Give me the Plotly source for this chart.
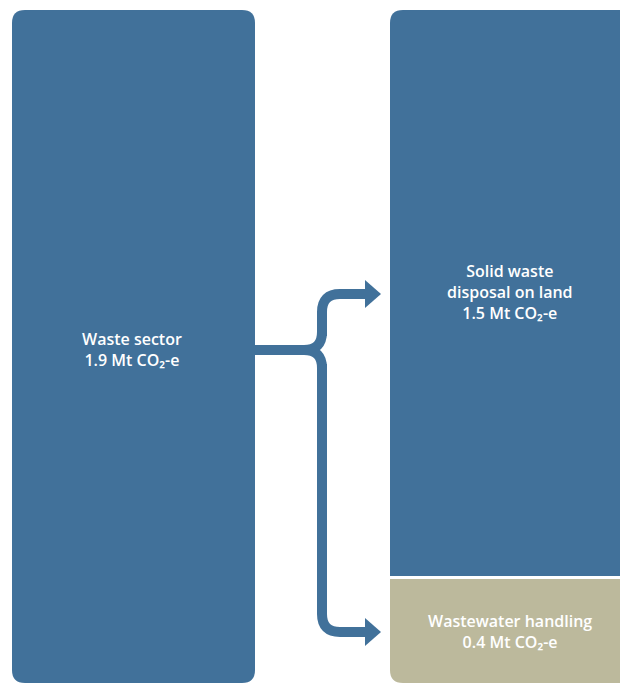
import plotly.graph_objects as go

# ---- data ----
node_names = ["Waste sector", "Solid waste<br>disposal on land", "Wastewater handling"]
node_values = [1.9, 1.5, 0.4]
unit = "Mt CO₂-e"

BLUE = "#41719A"
KHAKI = "#BCB99C"
W, H = 620, 683

def rrect(x0, y0, x1, y1, r, tl=0, tr=0, br=0, bl=0):
    p = f"M {x0+r*tl} {y0} L {x1-r*tr} {y0} "
    if tr: p += f"Q {x1} {y0} {x1} {y0+r} "
    p += f"L {x1} {y1-r*br} "
    if br: p += f"Q {x1} {y1} {x1-r} {y1} "
    p += f"L {x0+r*bl} {y1} "
    if bl: p += f"Q {x0} {y1} {x0} {y1-r} "
    p += f"L {x0} {y0+r*tl} "
    if tl: p += f"Q {x0} {y0} {x0+r} {y0} "
    return p + "Z"

fig = go.Figure()
fig.add_trace(go.Scatter(x=[0, W], y=[0, H], mode="markers", marker=dict(opacity=0), hoverinfo="skip", showlegend=False))

shapes = []
# boxes
shapes.append(dict(type="path", path=rrect(12, 10, 255, 683, 13, 1, 1, 1, 1), fillcolor=BLUE, line=dict(width=0), layer="below"))
shapes.append(dict(type="path", path=rrect(390, 10, 640, 576, 13, tl=1), fillcolor=BLUE, line=dict(width=0), layer="below"))
shapes.append(dict(type="path", path=rrect(390, 579, 640, 683, 13, bl=1), fillcolor=KHAKI, line=dict(width=0), layer="below"))

# connectors
lw = 10
for p in ["M 255 350 L 312 350",
          "M 304 350 Q 322 350 322 332",
          "M 304 350 Q 322 350 322 368",
          "M 322 336 L 322 312 Q 322 294 340 294 L 368 294",
          "M 322 364 L 322 614 Q 322 632 340 632 L 368 632"]:
    shapes.append(dict(type="path", path=p, line=dict(color=BLUE, width=lw), fillcolor="rgba(0,0,0,0)"))
shapes.append(dict(type="path", path="M 365 280 L 381 294 L 365 308 Z", fillcolor=BLUE, line=dict(width=0)))
shapes.append(dict(type="path", path="M 365 618 L 381 632 L 365 646 Z", fillcolor=BLUE, line=dict(width=0)))

# labels
centers = [(132, 349), (510, 292), (510, 631)]
font = dict(family="Open Sans", size=16, color="white", weight=600)
for name, val, (cx, cy) in zip(node_names, node_values, centers):
    fig.add_annotation(x=cx, y=cy, text=f"{name}<br>{val} {unit}", showarrow=False, font=font,
                       xanchor="center", yanchor="middle", align="center", borderpad=0)

fig.update_layout(
    width=W, height=H, margin=dict(l=0, r=0, t=0, b=0),
    paper_bgcolor="white", plot_bgcolor="white",
    xaxis=dict(range=[0, W], visible=False, fixedrange=True),
    yaxis=dict(range=[H, 0], visible=False, fixedrange=True),
    shapes=shapes, showlegend=False,
)
fig.write_html("out.html", config={"displayModeBar": False},
               post_script="document.body.style.margin='0';document.body.style.overflow='hidden';")
